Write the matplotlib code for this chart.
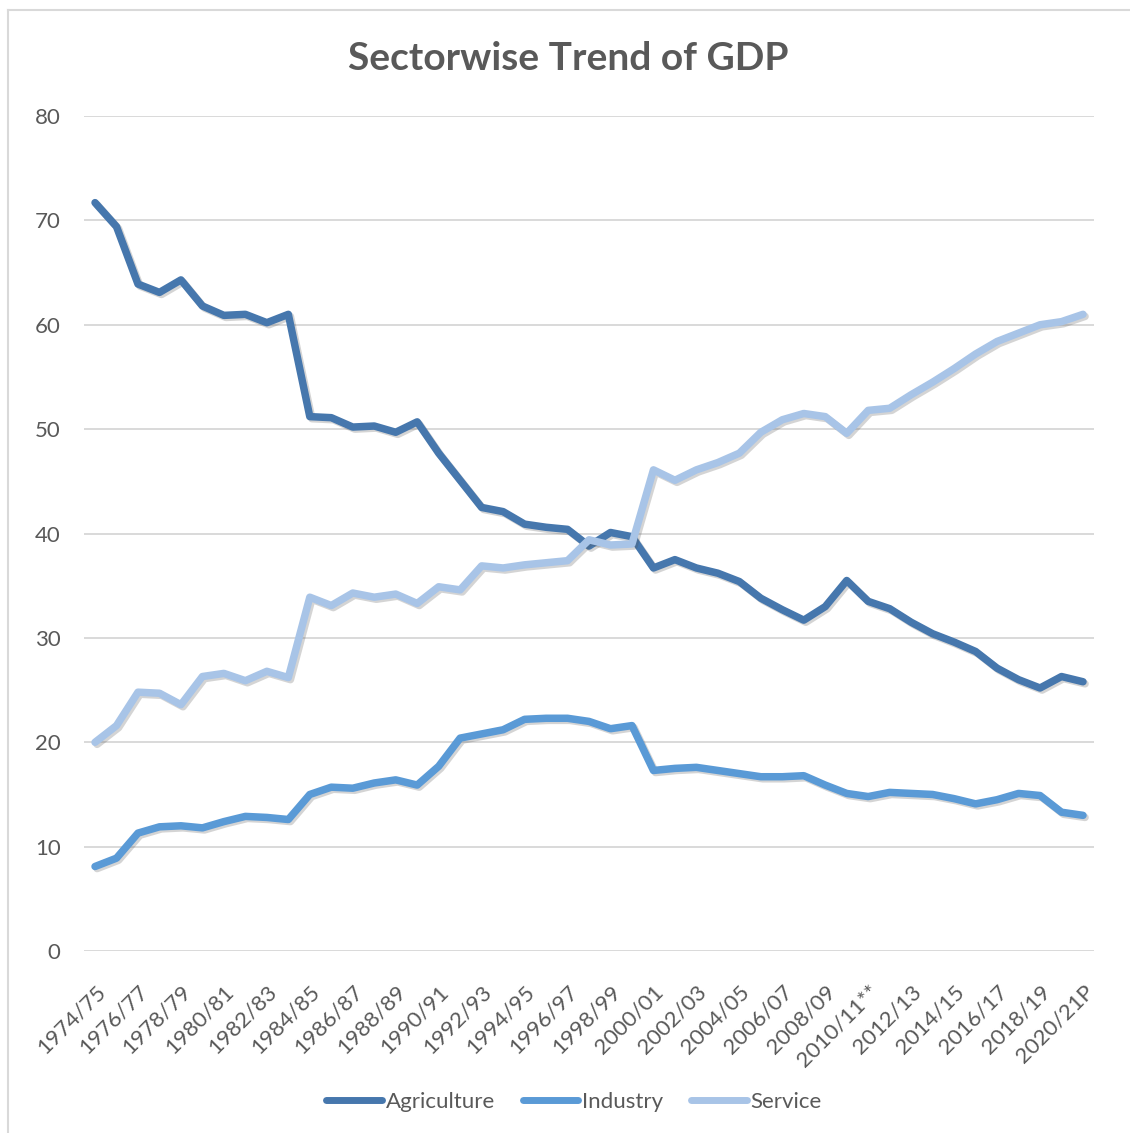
"""Sectorwise trend of GDP: agriculture, industry and service shares."""

import matplotlib

matplotlib.use("Agg")

import matplotlib.pyplot as plt
import matplotlib.patheffects as pe
from matplotlib.lines import Line2D


years = [
    "1974/75", "1975/76", "1976/77", "1977/78", "1978/79", "1979/80",
    "1980/81", "1981/82", "1982/83", "1983/84", "1984/85", "1985/86",
    "1986/87", "1987/88", "1988/89", "1989/90", "1990/91", "1991/92",
    "1992/93", "1993/94", "1994/95", "1995/96", "1996/97", "1997/98",
    "1998/99", "1999/00", "2000/01", "2001/02", "2002/03", "2003/04",
    "2004/05", "2005/06", "2006/07", "2007/08", "2008/09", "2009/10",
    "2010/11**", "2011/12", "2012/13", "2013/14", "2014/15", "2015/16",
    "2016/17", "2017/18", "2018/19", "2019/20", "2020/21P",
]

agriculture = [
    71.7, 69.4, 63.9, 63.1, 64.3, 61.8, 60.9, 61.0, 60.2, 61.0,
    51.2, 51.1, 50.2, 50.3, 49.7, 50.7, 47.7, 45.1, 42.5, 42.1,
    40.9, 40.6, 40.4, 38.8, 40.1, 39.7, 36.7, 37.5, 36.7, 36.2,
    35.4, 33.8, 32.7, 31.7, 33.0, 35.5, 33.5, 32.8, 31.5, 30.4,
    29.6, 28.7, 27.1, 26.0, 25.2, 26.3, 25.8,
]
industry = [
    8.1, 8.9, 11.3, 11.9, 12.0, 11.8, 12.4, 12.9, 12.8, 12.6,
    15.0, 15.7, 15.6, 16.1, 16.4, 15.9, 17.7, 20.4, 20.8, 21.2,
    22.2, 22.3, 22.3, 22.0, 21.3, 21.6, 17.3, 17.5, 17.6, 17.3,
    17.0, 16.7, 16.7, 16.8, 15.9, 15.1, 14.8, 15.2, 15.1, 15.0,
    14.6, 14.1, 14.5, 15.1, 14.9, 13.3, 13.0,
]
service = [
    20.0, 21.6, 24.8, 24.7, 23.6, 26.3, 26.6, 25.9, 26.8, 26.2,
    33.9, 33.1, 34.3, 33.9, 34.2, 33.3, 34.9, 34.6, 36.9, 36.7,
    37.0, 37.2, 37.4, 39.4, 38.9, 39.0, 46.1, 45.1, 46.1, 46.8,
    47.7, 49.7, 50.9, 51.5, 51.2, 49.6, 51.8, 52.0, 53.3, 54.5,
    55.8, 57.2, 58.4, 59.2, 60.0, 60.3, 61.0,
]

series = [
    ("Agriculture", agriculture, "#4677AD"),
    ("Industry", industry, "#5A9AD6"),
    ("Service", service, "#A8C4E7"),
]

TEXT = "#595959"
GRID = "#D9D9D9"

plt.rcParams["font.family"] = ["Lato", "DejaVu Sans"]

fig = plt.figure(figsize=(11.30, 11.33), dpi=100)
ax = fig.add_axes([0.0746, 0.1606, 0.8933, 0.7370])

x = list(range(len(years)))
shadow = [pe.SimpleLineShadow(offset=(1.5, -1.5), alpha=0.25, shadow_color="#555555"), pe.Normal()]
for name, values, color in series:
    ax.plot(x, values, color=color, lw=5.4, label=name,
            solid_capstyle="round", solid_joinstyle="round", path_effects=shadow)

ax.set_xlim(-0.5, len(years) - 0.5)
ax.set_ylim(0, 80)
ax.set_yticks(range(0, 81, 10))
ax.grid(axis="y", color=GRID, lw=1.4)
ax.set_axisbelow(True)
for spine in ax.spines.values():
    spine.set_visible(False)

ax.set_xticks(x[::2])
ax.set_xticklabels(years[::2], rotation=45, ha="right", va="top", rotation_mode="anchor")
ax.tick_params(axis="x", length=0, pad=22, labelsize=16, labelcolor=TEXT)
ax.tick_params(axis="y", length=0, pad=17, labelsize=16, labelcolor=TEXT)

fig.text(0.503, 0.948, "Sectorwise Trend of GDP", ha="center", va="center",
         fontsize=28, fontweight="bold", color=TEXT)

leg = fig.legend(loc="center", bbox_to_anchor=(0.508, 0.0274), ncol=3, frameon=False,
                 fontsize=16, handlelength=2.5, handletextpad=0.18, columnspacing=1.25,
                 labelcolor=TEXT)
for handle in leg.get_lines():
    handle.set_path_effects([])
    handle.set_linewidth(5)

# chart area border (only left and top edges are visible in the crop)
fig.add_artist(Line2D([0.0071, 0.0071], [0.0, 0.9912], color=GRID, lw=1.5))
fig.add_artist(Line2D([0.0071, 1.0], [0.9912, 0.9912], color=GRID, lw=1.5))

fig.savefig("out.png", dpi=100, facecolor="white")
plt.close(fig)
